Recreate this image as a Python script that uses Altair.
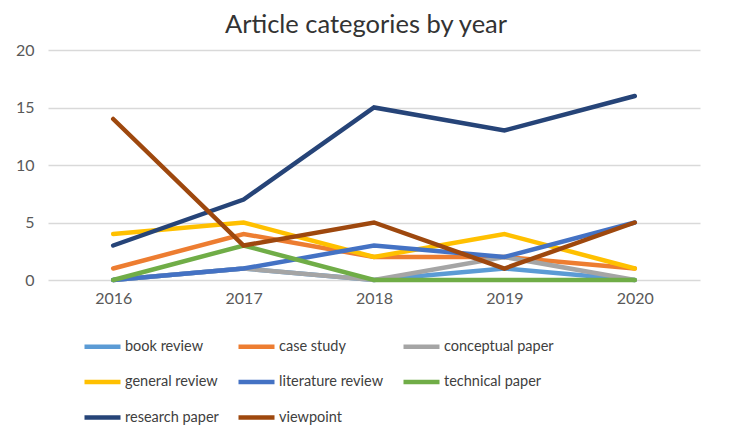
import altair as alt
import pandas as pd

years = ["2016", "2017", "2018", "2019", "2020"]
categories = ["book review", "case study", "conceptual paper", "general review",
              "literature review", "technical paper", "research paper", "viewpoint"]
book_review = [0, 1, 0, 1, 0]
case_study = [1, 4, 2, 2, 1]
conceptual_paper = [0, 1, 0, 2, 0]
general_review = [4, 5, 2, 4, 1]
literature_review = [0, 1, 3, 2, 5]
technical_paper = [0, 3, 0, 0, 0]
research_paper = [3, 7, 15, 13, 16]
viewpoint = [14, 3, 5, 1, 5]
colors = ["#5B9BD5", "#ED7D31", "#A5A5A5", "#FFC000", "#4472C4", "#70AD47", "#264478", "#9E480E"]

series = [book_review, case_study, conceptual_paper, general_review,
          literature_review, technical_paper, research_paper, viewpoint]
rows = []
for i, (cat, vals) in enumerate(zip(categories, series)):
    for y, v in zip(years, vals):
        rows.append({"year": y, "category": cat, "count": v, "order": i})
df = pd.DataFrame(rows)

FONT = "Lato"

chart = alt.Chart(df).mark_line(strokeWidth=4.5, strokeCap="round", strokeJoin="miter").encode(
    x=alt.X("year:O", sort=years, scale=alt.Scale(type="point", padding=0.5),
            axis=alt.Axis(title=None, labelAngle=0, domain=False, ticks=False,
                          labelFontSize=16, labelColor="#595959", labelPadding=10, labelFont=FONT)),
    y=alt.Y("count:Q", scale=alt.Scale(domain=[0, 20]),
            axis=alt.Axis(title=None, values=[0, 5, 10, 15, 20], domain=False, ticks=False,
                          labelFontSize=16, labelColor="#595959", labelPadding=14, labelFont=FONT,
                          gridColor="#D9D9D9", gridWidth=1.3)),
    color=alt.Color("category:N", sort=categories,
                    scale=alt.Scale(domain=categories, range=colors),
                    legend=alt.Legend(title=None, orient="none", legendX=34, legendY=276,
                                      columns=3, direction="horizontal", symbolType="stroke",
                                      symbolSize=1296, symbolStrokeWidth=4.5,
                                      labelFontSize=14.5, labelColor="#404040", labelFont=FONT,
                                      labelOffset=2, columnPadding=10, rowPadding=5.5,
                                      gridAlign="each", labelLimit=300)),
    order=alt.Order("order:Q"),
).properties(
    width=652, height=230,
    title=alt.Title("Article categories by year", fontSize=25.5, font=FONT, fontWeight="normal",
                    color="#333333", offset=4, dx=-8),
    autosize=alt.AutoSizeParams(type="none"),
    padding={"left": 40, "top": 42, "right": 25, "bottom": 151},
    background="white",
).configure_view(stroke=None)

chart.save("out.html", embed_options={"renderer": "svg", "actions": False})
